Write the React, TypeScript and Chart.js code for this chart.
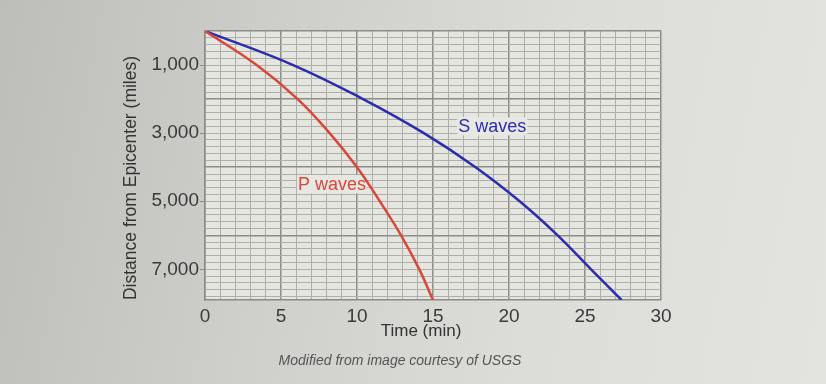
import React, { useEffect, useRef } from "react";
import { Chart, registerables } from "chart.js";

Chart.register(...registerables);

// ---- data ----
const timeLabels = [0, 5, 10, 15, 20, 25, 30];
const distanceLabels = [1000, 3000, 5000, 7000];
const pDistance = [0, 1000, 2000, 3000, 4000, 5000, 6000, 7000, 7900];
const pTime = [0, 3.4, 6.1, 8.2, 10.0, 11.5, 12.9, 14.1, 15.0];
const sDistance = [0, 1000, 2000, 3000, 4000, 5000, 6000, 7000, 7900];
const sTime = [0, 5.8, 10.4, 14.4, 17.8, 20.7, 23.2, 25.4, 27.4];
const seriesNames = ["P waves", "S waves"];
const seriesLabelAt = [
  { x: 8.35, y: 4500 },
  { x: 18.9, y: 2800 },
];
const xTitle = "Time (min)";
const yTitle = "Distance from Epicenter (miles)";
const caption = "Modified from image courtesy of USGS";

const FONT = "'Liberation Sans', Arial, sans-serif";
const RED = "#d8473b";
const BLUE = "#2c2cae";

const overlay = {
  id: "overlay",
  beforeDraw(chart: any) {
    const { ctx, chartArea: a } = chart;
    ctx.save();
    ctx.fillStyle = "#e6e6e1";
    ctx.fillRect(a.left, a.top, a.right - a.left, a.bottom - a.top);
    ctx.restore();
  },
  beforeDatasetsDraw(chart: any) {
    const { ctx } = chart;
    const xs = chart.scales.x;
    const ys = chart.scales.y;
    ctx.save();
    ctx.font = `18px ${FONT}`;
    ctx.textAlign = "center";
    ctx.textBaseline = "middle";
    seriesNames.forEach((name, i) => {
      const px = xs.getPixelForValue(seriesLabelAt[i].x);
      const py = ys.getPixelForValue(seriesLabelAt[i].y);
      const w = ctx.measureText(name).width;
      ctx.fillStyle = "#e8e8e3";
      ctx.fillRect(px - w / 2 - 1, py - 9, w + 2, 18);
      ctx.fillStyle = i === 0 ? RED : BLUE;
      ctx.fillText(name, px, py + 1);
    });
    ctx.restore();
  },
  afterDraw(chart: any) {
    const { ctx } = chart;
    ctx.save();
    ctx.fillStyle = "#333";
    ctx.textAlign = "center";
    ctx.textBaseline = "middle";
    ctx.font = `17px ${FONT}`;
    ctx.fillText(xTitle, 421, 331);
    ctx.save();
    ctx.translate(131, 178);
    ctx.rotate(-Math.PI / 2);
    ctx.font = `17.5px ${FONT}`;
    ctx.fillText(yTitle, 0, 0);
    ctx.restore();
    ctx.font = `italic 14px ${FONT}`;
    ctx.fillStyle = "#555";
    ctx.fillText(caption, 400, 361);
    ctx.restore();
  },
};

export default function App() {
  const ref = useRef<HTMLCanvasElement | null>(null);

  useEffect(() => {
    if (!ref.current) return;
    const chart = new Chart(ref.current, {
      type: "line",
      data: {
        datasets: [
          {
            label: seriesNames[0],
            data: pTime.map((t, i) => ({ x: t, y: pDistance[i] })),
            borderColor: RED,
            borderWidth: 2.5,
            pointRadius: 0,
            tension: 0.4,
            fill: false,
          },
          {
            label: seriesNames[1],
            data: sTime.map((t, i) => ({ x: t, y: sDistance[i] })),
            borderColor: BLUE,
            borderWidth: 2.5,
            pointRadius: 0,
            tension: 0.4,
            fill: false,
          },
        ],
      },
      options: {
        responsive: false,
        animation: false,
        layout: { padding: { left: 0, top: 31, right: 165, bottom: 0 } },
        plugins: {
          legend: { display: false },
          tooltip: { enabled: false },
        },
        scales: {
          x: {
            type: "linear",
            min: 0,
            max: 30,
            afterFit: (s: any) => {
              s.height = 84;
            },
            afterBuildTicks: (s: any) => {
              const t = [];
              for (let v = 0; v <= 30; v += 1) t.push({ value: v });
              s.ticks = t;
            },
            ticks: {
              autoSkip: false,
              maxRotation: 0,
              padding: 5,
              color: "#3a3a3a",
              font: { family: FONT, size: 19 },
              callback: (v: any) => (timeLabels.includes(v) ? String(v) : ""),
            },
            grid: {
              drawTicks: false,
              color: (c: any) => (c.tick && c.tick.value % 5 === 0 ? "#8c8c88" : "#afafaa"),
              lineWidth: (c: any) => (c.tick && c.tick.value % 5 === 0 ? 1.5 : 1),
            },
            border: { color: "#8a8a86", width: 1.5 },
          },
          y: {
            type: "linear",
            reverse: true,
            min: 0,
            max: 7900,
            afterFit: (s: any) => {
              s.width = 205;
            },
            afterBuildTicks: (s: any) => {
              const t = [];
              for (let v = 0; v <= 7800; v += 200) t.push({ value: v });
              s.ticks = t;
            },
            ticks: {
              autoSkip: false,
              padding: 1,
              color: "#3a3a3a",
              font: { family: FONT, size: 19 },
              callback: (v: any) =>
                distanceLabels.includes(v) ? Number(v).toLocaleString("en-US") : "",
            },
            grid: {
              tickLength: 5,
              tickColor: (c: any) =>
                c.tick && distanceLabels.includes(c.tick.value) ? "#8c8c88" : "rgba(0,0,0,0)",
              color: (c: any) =>
                c.tick && c.tick.value % 2000 === 0 ? "#8c8c88" : "#afafaa",
              lineWidth: (c: any) => (c.tick && c.tick.value % 2000 === 0 ? 1.5 : 1),
            },
            border: { color: "#8a8a86", width: 1.5 },
          },
        },
      },
      plugins: [overlay],
    } as any);
    return () => chart.destroy();
  }, []);

  return (
    <div
      style={{
        position: "fixed",
        left: 0,
        top: 0,
        width: 826,
        height: 384,
        background:
          "linear-gradient(100deg, #bdbdb9 0%, #cfcfcb 35%, #dcdcd8 65%, #e3e3df 100%)",
      }}
    >
      <canvas ref={ref} width={826} height={384} style={{ display: "block" }} />
    </div>
  );
}
